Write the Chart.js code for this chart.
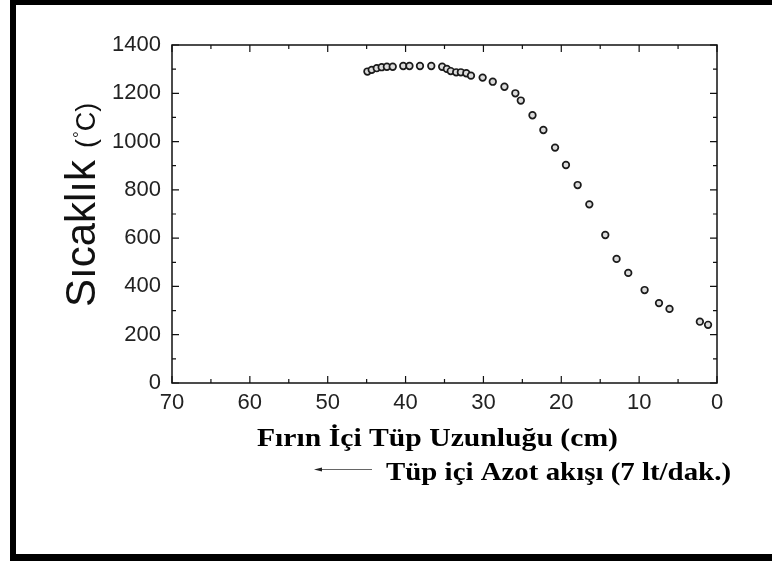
<!DOCTYPE html>
<html>
<head>
<meta charset="utf-8">
<script src="https://cdn.jsdelivr.net/npm/chart.js@4/dist/chart.umd.min.js"></script>
<style>
  body { margin: 0; background: #fff; }
  #wrap { width: 772px; height: 565px; position: relative; }
</style>
</head>
<body>
<div id="wrap"><canvas id="myChart"></canvas></div>
<script>
// tube position (cm) and temperature (°C)
const positions = [44.9, 44.35, 43.7, 43.07, 42.4, 41.65, 40.3, 39.5, 38.15, 36.7, 35.3, 34.7,
    34.2, 33.5, 32.9, 32.2, 31.6, 30.1, 28.8, 27.3, 25.9, 25.2, 23.7, 22.3, 20.8, 19.4,
    17.9, 16.4, 14.35, 12.9, 11.4, 9.3, 7.45, 6.1, 2.2, 1.15];
const temps = [1290, 1297, 1304, 1308, 1310, 1310, 1313, 1313, 1313, 1313, 1310, 1301,
    1292, 1287, 1287, 1283, 1273, 1265, 1248, 1227, 1200, 1170, 1109, 1048, 975, 903,
    820, 740, 613, 514, 456, 385, 331, 307, 254, 241];
const xTicks = [0, 10, 20, 30, 40, 50, 60, 70];
const yTicks = [0, 200, 400, 600, 800, 1000, 1200, 1400];

const yTitle = 'Sıcaklık';
const yUnit = ['(', '°', 'C)'];
const xTitle = 'Fırın İçi Tüp Uzunluğu (cm)';
const flowNote = 'Tüp içi Azot akışı (7 lt/dak.)';

const points = positions.map(function (p, i) {
    return { x: p, y: temps[i] };
});

// frame, inward ticks, titles and the outer border
const decor = {
    id: 'decor',
    beforeDraw(chart) {
        const ctx = chart.ctx;
        ctx.save();
        ctx.fillStyle = '#fff';
        ctx.fillRect(0, 0, chart.width, chart.height);
        ctx.fillStyle = '#000';
        ctx.fillRect(10, 0, chart.width - 10, 5);
        ctx.fillRect(10, 0, 6, 561);
        ctx.fillRect(10, 554, chart.width - 10, 7);
        ctx.restore();
    },
    afterDraw(chart) {
        const ctx = chart.ctx;
        const a = chart.chartArea;
        const xs = chart.scales.x, ys = chart.scales.y;
        ctx.save();
        ctx.strokeStyle = '#111';
        ctx.lineWidth = 1.5;
        ctx.strokeRect(a.left, a.top, a.right - a.left, a.bottom - a.top);
        ctx.lineWidth = 1.2;
        ctx.beginPath();
        for (let v = xs.min; v <= xs.max; v += 5) {
            const px = xs.getPixelForValue(v);
            const len = v % 10 === 0 ? 7 : 4;
            ctx.moveTo(px, a.bottom); ctx.lineTo(px, a.bottom - len);
            ctx.moveTo(px, a.top); ctx.lineTo(px, a.top + len);
        }
        for (let v = ys.min; v <= ys.max; v += 100) {
            const py = ys.getPixelForValue(v);
            const len = v % 200 === 0 ? 7 : 4;
            ctx.moveTo(a.left, py); ctx.lineTo(a.left + len, py);
            ctx.moveTo(a.right, py); ctx.lineTo(a.right - len, py);
        }
        ctx.stroke();

        // y title, rotated
        ctx.fillStyle = '#111';
        ctx.translate(95, 307);
        ctx.rotate(-Math.PI / 2);
        ctx.textBaseline = 'alphabetic';
        ctx.textAlign = 'left';
        ctx.font = '42px "Liberation Sans", Arial, sans-serif';
        ctx.fillText(yTitle, 0, 0);
        let cx = ctx.measureText(yTitle).width + 12;
        ctx.font = '27px "Liberation Sans", Arial, sans-serif';
        ctx.fillText(yUnit[0], cx, 0);
        cx += ctx.measureText(yUnit[0]).width + 1;
        ctx.font = '17px "Liberation Sans", Arial, sans-serif';
        ctx.fillText(yUnit[1], cx, -10);
        cx += ctx.measureText(yUnit[1]).width;
        ctx.font = '27px "Liberation Sans", Arial, sans-serif';
        ctx.fillText(yUnit[2], cx, 0);
        ctx.setTransform(1, 0, 0, 1, 0, 0);

        // x title and flow note, stretched serif bold
        ctx.fillStyle = '#000';
        ctx.font = 'bold 25px "Liberation Serif", "Times New Roman", serif';
        ctx.textAlign = 'left';
        ctx.textBaseline = 'alphabetic';
        let w = ctx.measureText(xTitle).width;
        ctx.save();
        ctx.translate(257, 446);
        ctx.scale(361 / w, 1);
        ctx.fillText(xTitle, 0, 0);
        ctx.restore();
        w = ctx.measureText(flowNote).width;
        ctx.save();
        ctx.translate(386, 480);
        ctx.scale(345 / w, 1);
        ctx.fillText(flowNote, 0, 0);
        ctx.restore();

        // arrow
        ctx.strokeStyle = '#666';
        ctx.lineWidth = 1;
        ctx.beginPath();
        ctx.moveTo(316, 469.5); ctx.lineTo(372, 469.5);
        ctx.stroke();
        ctx.fillStyle = '#222';
        ctx.beginPath();
        ctx.moveTo(314, 469.5); ctx.lineTo(322, 467.5); ctx.lineTo(322, 471.5);
        ctx.closePath();
        ctx.fill();
        ctx.restore();
    }
};

function plainLabel(v) {
    return String(v);
}

new Chart(document.getElementById('myChart'), {
    type: 'scatter',
    data: {
        datasets: [{
            data: points,
            pointRadius: 3.3,
            pointBorderWidth: 1.7,
            pointBorderColor: '#1a1a1a',
            pointBackgroundColor: '#dcdcdc'
        }]
    },
    options: {
        responsive: true,
        maintainAspectRatio: false,
        animation: false,
        layout: { padding: { left: 0, top: 45, right: 55, bottom: 0 } },
        plugins: { legend: { display: false }, tooltip: { enabled: false } },
        scales: {
            x: {
                type: 'linear',
                reverse: true,
                min: 0,
                max: 70,
                afterFit: function (s) { s.height = 182; },
                afterBuildTicks: function (s) { s.ticks = xTicks.map(function (v) { return { value: v }; }); },
                grid: { display: false, drawTicks: false, tickLength: 0 },
                border: { display: false },
                ticks: {
                    padding: 7,
                    color: '#222',
                    callback: plainLabel,
                    font: { family: '"Liberation Sans", Arial, sans-serif', size: 22 }
                }
            },
            y: {
                min: 0,
                max: 1400,
                afterFit: function (s) { s.width = 172; },
                afterBuildTicks: function (s) { s.ticks = yTicks.map(function (v) { return { value: v }; }); },
                grid: { display: false, drawTicks: false, tickLength: 0 },
                border: { display: false },
                ticks: {
                    padding: 11,
                    color: '#222',
                    callback: plainLabel,
                    font: { family: '"Liberation Sans", Arial, sans-serif', size: 22 }
                }
            }
        }
    },
    plugins: [decor]
});
</script>
</body>
</html>
